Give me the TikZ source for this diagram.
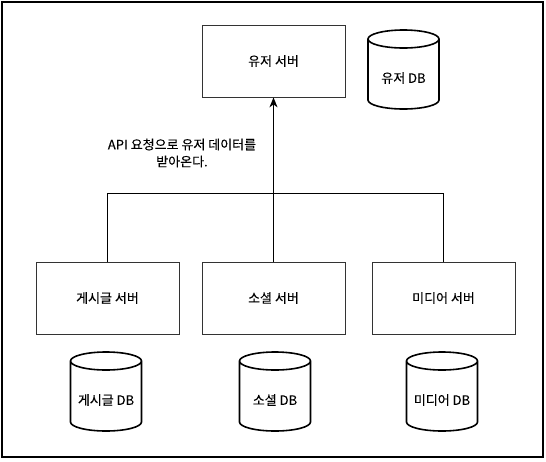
\documentclass[tikz,border=0pt]{standalone}
\usepackage{fontspec}
\setmainfont{Noto Sans CJK KR}[FakeBold=0.15]
\usetikzlibrary{arrows.meta, positioning}

\begin{document}
\begin{tikzpicture}[x=1pt, y=-1pt]
	\tikzset {>={Stealth[length=10pt, width=8pt, inset=3pt]},
		every node/.style={font=\fontsize{13}{17}\selectfont},
		server/.style={draw=black!80, line width=0.8pt, minimum width=143pt, minimum height=72pt},
		link/.style={draw=black, line width=1pt},
		dbline/.style={draw=black, line width=1.6pt},
		frame/.style={draw=black, line width=1.6pt} }

	\useasboundingbox (0,0) rectangle (546,461);
	\draw[frame] (2,2) rectangle (543,457);

	\node[server] (user) at (273.5,61) {유저 서버};
	\node[server] (post) at (107.5,298) {게시글 서버};
	\node[server] (social) at (273.5,298) {소셜 서버};
	\node[server] (media) at (443.5,298) {미디어 서버};

	\coordinate (bus) at (273.5,193);
	\node[align=center] (req) at (182,153) {API 요청으로 유저 데이터를\\받아온다.};

	\draw[link] (post.north) |- (media.north |- bus) -- (media.north);
	\draw[link] (social.north) -- (bus);
	\draw[link, ->] (bus) -- (user.south);

	% databases
	\foreach \name/\x/\y/\txt in {userdb/403.5/78/유저 DB, postdb/106/400/게시글 DB,
			socialdb/275/400/소셜 DB, mediadb/442/400/미디어 DB} {
		\node (\name) at (\x,\y) {\txt};
		\draw[dbline] ([xshift=-35.5pt, yshift=39pt]\name.center)
			-- ([xshift=-35.5pt, yshift=-22pt]\name.center)
			arc[start angle=180, end angle=360, x radius=35.5pt, y radius=9pt]
			-- ([xshift=35.5pt, yshift=39pt]\name.center)
			arc[start angle=0, end angle=360, x radius=35.5pt, y radius=9pt];
	}
\end{tikzpicture}
\end{document}
